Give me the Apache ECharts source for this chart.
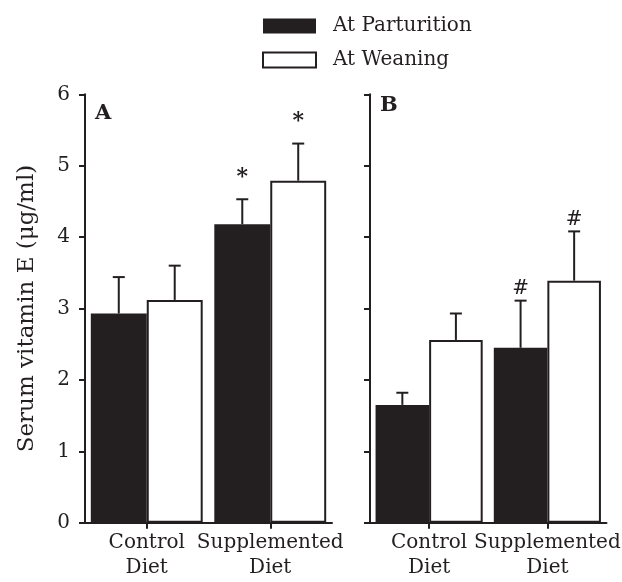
<!DOCTYPE html>
<html>
<head>
<meta charset="utf-8">
<script src="https://cdn.jsdelivr.net/npm/echarts@6/dist/echarts.min.js"></script>
<style>html,body{margin:0;padding:0;background:#fff;}#c{width:622px;height:582px;}</style>
</head>
<body>
<div id="c"></div>
<script>
// ---- data ----
const categories = ['Control\nDiet', 'Supplemented\nDiet'];
const seriesNames = ['At Parturition', 'At Weaning'];
const yTicks = [0, 1, 2, 3, 4, 5, 6];
// Panel A
const A_parturition = [2.93, 4.18];
const A_weaning = [3.12, 4.79];
const A_parturitionErr = [0.51, 0.35];
const A_weaningErr = [0.48, 0.52];
const A_parturitionMark = ['', '*'];
const A_weaningMark = ['', '*'];
// Panel B
const B_parturition = [1.65, 2.45];
const B_weaning = [2.56, 3.39];
const B_parturitionErr = [0.17, 0.66];
const B_weaningErr = [0.37, 0.69];
const B_parturitionMark = ['', '#'];
const B_weaningMark = ['', '#'];
const panelLabels = ['A', 'B'];

// ---- style ----
const INK = '#231f20';
const FONT = 'DejaVu Serif';
const BAR_FRAC = 0.453;

const chart = echarts.init(document.getElementById('c'), null, {renderer: 'canvas'});

function errSeries(name, values, errs, marks, axisIdx, side) {
  return {
    type: 'custom',
    name: name + ' err',
    xAxisIndex: axisIdx, yAxisIndex: axisIdx,
    z: 5,
    silent: true,
    data: values.map((v, i) => [i, v, errs[i]]),
    renderItem: function (params, api) {
      const i = api.value(0);
      const v = api.value(1);
      const e = api.value(2);
      const mk = marks[params.dataIndex];
      const band = api.size([1, 0])[0];
      const off = side * band * BAR_FRAC / 2;
      const p0 = api.coord([i, v]);
      const p1 = api.coord([i, v + e]);
      const x = p0[0] + off;
      const cap = 6;
      const children = [
        {type: 'line', shape: {x1: x, y1: p0[1], x2: x, y2: p1[1]}, style: {stroke: INK, lineWidth: 2}},
        {type: 'line', shape: {x1: x - cap, y1: p1[1], x2: x + cap, y2: p1[1]}, style: {stroke: INK, lineWidth: 2}}
      ];
      if (mk) {
        const isStar = mk === '*';
        children.push({
          type: 'text',
          style: {
            text: mk, x: x, y: p1[1] - (isStar ? 22 : 12),
            align: 'center', verticalAlign: 'middle',
            font: (isStar ? 'bold 22px ' : '20px ') + FONT, fill: INK
          }
        });
      }
      return {type: 'group', children: children};
    }
  };
}

function barSeries(name, values, axisIdx, dark) {
  return {
    type: 'bar', name: name,
    xAxisIndex: axisIdx, yAxisIndex: axisIdx,
    data: values,
    barWidth: (BAR_FRAC * 100) + '%',
    barGap: '0%',
    itemStyle: dark ? {color: INK, borderColor: INK, borderWidth: 0}
                    : {color: '#ffffff', borderColor: INK, borderWidth: 2},
    emphasis: {disabled: true}
  };
}

const axisLine = {show: true, lineStyle: {color: INK, width: 2}};
const axisTick = {show: true, length: 6, inside: false, lineStyle: {color: INK, width: 2}};

function xAx(gi) {
  return {
    type: 'category', gridIndex: gi, data: categories,
    axisLine: axisLine,
    axisTick: Object.assign({alignWithLabel: true}, axisTick),
    axisLabel: {color: INK, fontFamily: FONT, fontSize: 20, lineHeight: 25, margin: 8, interval: 0}
  };
}
function yAx(gi, showLabels) {
  return {
    type: 'value', gridIndex: gi, min: yTicks[0], max: yTicks[yTicks.length - 1], interval: 1,
    axisLine: axisLine, axisTick: axisTick, splitLine: {show: false},
    axisLabel: {show: showLabels, color: INK, fontFamily: FONT, fontSize: 20, margin: 15},
    name: showLabels ? 'Serum vitamin E (\u03bcg/ml)' : '',
    nameLocation: 'middle', nameGap: 46,
    nameTextStyle: {color: INK, fontFamily: FONT, fontSize: 23}
  };
}

const option = {
  animation: false,
  backgroundColor: '#ffffff',
  legend: {
    orient: 'vertical', left: 262, top: 16, padding: 0,
    itemWidth: 53, itemHeight: 15, itemGap: 14,
    icon: 'rect',
    data: seriesNames,
    textStyle: {color: INK, fontFamily: FONT, fontSize: 20, padding: [0, 0, 0, 12]}
  },
  grid: [
    {left: 85, right: 290, top: 94.3, bottom: 59.3},
    {left: 370, right: 8.5, top: 94.3, bottom: 59.3}
  ],
  xAxis: [xAx(0), xAx(1)],
  yAxis: [yAx(0, true), yAx(1, false)],
  graphic: [
    {type: 'text', left: 95, top: 103, style: {text: panelLabels[0], font: 'bold 21px ' + FONT, fill: INK}},
    {type: 'text', left: 380, top: 95, style: {text: panelLabels[1], font: 'bold 21px ' + FONT, fill: INK}}
  ],
  series: [
    barSeries(seriesNames[0], A_parturition, 0, true),
    barSeries(seriesNames[1], A_weaning, 0, false),
    barSeries(seriesNames[0], B_parturition, 1, true),
    barSeries(seriesNames[1], B_weaning, 1, false),
    errSeries(seriesNames[0], A_parturition, A_parturitionErr, A_parturitionMark, 0, -1),
    errSeries(seriesNames[1], A_weaning, A_weaningErr, A_weaningMark, 0, 1),
    errSeries(seriesNames[0], B_parturition, B_parturitionErr, B_parturitionMark, 1, -1),
    errSeries(seriesNames[1], B_weaning, B_weaningErr, B_weaningMark, 1, 1)
  ]
};
chart.setOption(option);
</script>
</body>
</html>
